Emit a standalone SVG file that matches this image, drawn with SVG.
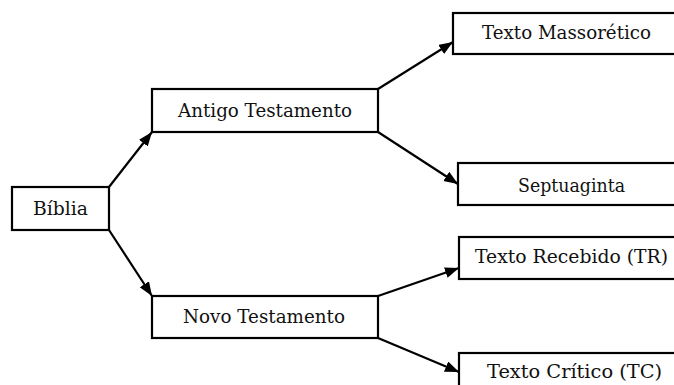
<svg xmlns="http://www.w3.org/2000/svg" width="674" height="385" viewBox="0 0 674 385">
<style>
.box{fill:#fff;stroke:#000;stroke-width:2.2}
.lbl{font-family:'DejaVu Serif','Liberation Serif',serif;font-size:18px;fill:#111;text-anchor:middle}
.edge{stroke:#000;stroke-width:2.2;fill:none;marker-end:url(#ah)}
</style>
<defs>
<marker id="ah" markerUnits="userSpaceOnUse" markerWidth="15" markerHeight="12" refX="14" refY="5.5" orient="auto">
<path d="M0,0 L14,5.5 L0,11 z" fill="#000"/>
</marker>
</defs>
<rect width="674" height="385" fill="#fff"/>
<g id="connectors">
<line class="edge" x1="109" y1="187" x2="152" y2="132"/>
<line class="edge" x1="109" y1="230" x2="152" y2="296"/>
<line class="edge" x1="378" y1="89" x2="453" y2="42"/>
<line class="edge" x1="378" y1="132" x2="458" y2="184"/>
<line class="edge" x1="378" y1="296" x2="459" y2="268"/>
<line class="edge" x1="378" y1="338" x2="459" y2="372"/>
</g>
<g id="biblia">
<rect class="box" x="12" y="187" width="97" height="43"/>
<text class="lbl" x="60.5" y="215" textLength="55" lengthAdjust="spacingAndGlyphs">Bíblia</text>
</g>
<g id="antigo">
<rect class="box" x="152" y="89" width="226" height="43"/>
<text class="lbl" x="265" y="117" textLength="174" lengthAdjust="spacingAndGlyphs">Antigo Testamento</text>
</g>
<g id="novo">
<rect class="box" x="152" y="296" width="226" height="42"/>
<text class="lbl" x="264" y="323" textLength="162" lengthAdjust="spacingAndGlyphs">Novo Testamento</text>
</g>
<g id="massoretico">
<rect class="box" x="453" y="13" width="230" height="41"/>
<text class="lbl" x="566.5" y="39" textLength="169" lengthAdjust="spacingAndGlyphs">Texto Massorético</text>
</g>
<g id="septuaginta">
<rect class="box" x="458" y="163" width="230" height="42"/>
<text class="lbl" x="571.5" y="192" textLength="107" lengthAdjust="spacingAndGlyphs">Septuaginta</text>
</g>
<g id="recebido">
<rect class="box" x="459" y="237" width="230" height="42"/>
<text class="lbl" x="571.5" y="263" textLength="193" lengthAdjust="spacingAndGlyphs">Texto Recebido (TR)</text>
</g>
<g id="critico">
<rect class="box" x="459" y="353" width="230" height="50"/>
<text class="lbl" x="574.5" y="378" textLength="175" lengthAdjust="spacingAndGlyphs">Texto Crítico (TC)</text>
</g>
</svg>
